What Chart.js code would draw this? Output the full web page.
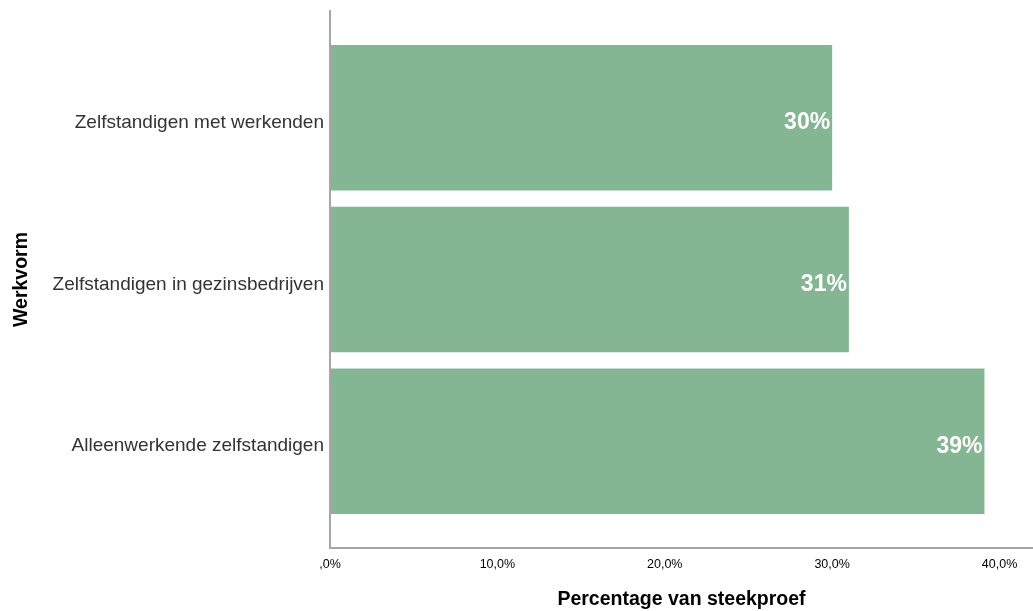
<!DOCTYPE html>
<html><head><meta charset="utf-8">
<script src="https://cdn.jsdelivr.net/npm/chart.js@4/dist/chart.umd.min.js"></script>
<style>html,body{margin:0;padding:0;background:#fff}#wrap{width:1033px;height:611px}</style>
</head><body><div id="wrap"><canvas id="c" width="1033" height="611"></canvas></div>
<script>
const categories = ["Zelfstandigen met werkenden", "Zelfstandigen in gezinsbedrijven", "Alleenwerkende zelfstandigen"];
const values = [30.0, 31.0, 39.1];
const valueLabels = ["30%", "31%", "39%"];
const xTicks = [0, 10, 20, 30, 40];
const xTitle = "Percentage van steekproef";
const yTitle = "Werkvorm";

const FONT = "'Liberation Sans', Arial, sans-serif";

const extras = {
  id: 'extras',
  afterDatasetsDraw(chart) {
    const ctx = chart.ctx, a = chart.chartArea;
    ctx.save();
    ctx.strokeStyle = '#a6a6a6';
    ctx.lineWidth = 2;
    ctx.beginPath();
    ctx.moveTo(a.left, a.top - 27);
    ctx.lineTo(a.left, a.bottom + 26);
    ctx.lineTo(a.right, a.bottom + 26);
    ctx.stroke();
    const meta = chart.getDatasetMeta(0);
    ctx.fillStyle = '#ffffff';
    ctx.font = "bold 23px " + FONT;
    ctx.textAlign = 'right';
    ctx.textBaseline = 'middle';
    meta.data.forEach((bar, i) => {
      ctx.fillText(valueLabels[i], bar.x - 2, bar.y + 5);
    });
    ctx.restore();
  }
};

new Chart(document.getElementById('c'), {
  type: 'bar',
  data: {
    labels: categories,
    datasets: [{
      data: values,
      backgroundColor: '#85b693',
      borderWidth: 0,
      categoryPercentage: 0.9,
      barPercentage: 1.0
    }]
  },
  options: {
    indexAxis: 'y',
    responsive: false,
    animation: false,
    devicePixelRatio: 1,
    layout: { padding: { top: 37, right: 0, left: 0, bottom: 0 } },
    plugins: { legend: { display: false }, tooltip: { enabled: false } },
    scales: {
      x: {
        type: 'linear',
        min: 0, max: 42,
        grid: { display: false, drawTicks: false },
        border: { display: false },
        afterBuildTicks(scale) {
          scale.ticks = xTicks.map(v => ({ value: v }));
        },
        afterFit(scale) { scale.height = 89; scale.paddingRight = 0; scale.paddingLeft = 0; },
        ticks: {
          padding: 35,
          color: '#000',
          font: { family: FONT, size: 12.5 },
          maxRotation: 0,
          callback: v => (v === 0 ? '' : v) + ',0%'
        },
        title: {
          display: true, text: xTitle, color: '#000',
          font: { family: FONT, size: 19.5, weight: 'bold' },
          padding: { top: 0, bottom: 0 }
        }
      },
      y: {
        grid: { display: false, drawTicks: false },
        border: { display: false },
        afterFit(scale) { scale.width = 330; scale.paddingTop = 0; scale.paddingBottom = 0; },
        ticks: {
          padding: 6,
          labelOffset: 5,
          color: '#333',
          font: { family: FONT, size: 19 }
        },
        title: {
          display: true, text: yTitle, color: '#000',
          font: { family: FONT, size: 19.5, weight: 'bold' },
          padding: { top: 10, bottom: 0 }
        }
      }
    }
  },
  plugins: [extras]
});
</script></body></html>
